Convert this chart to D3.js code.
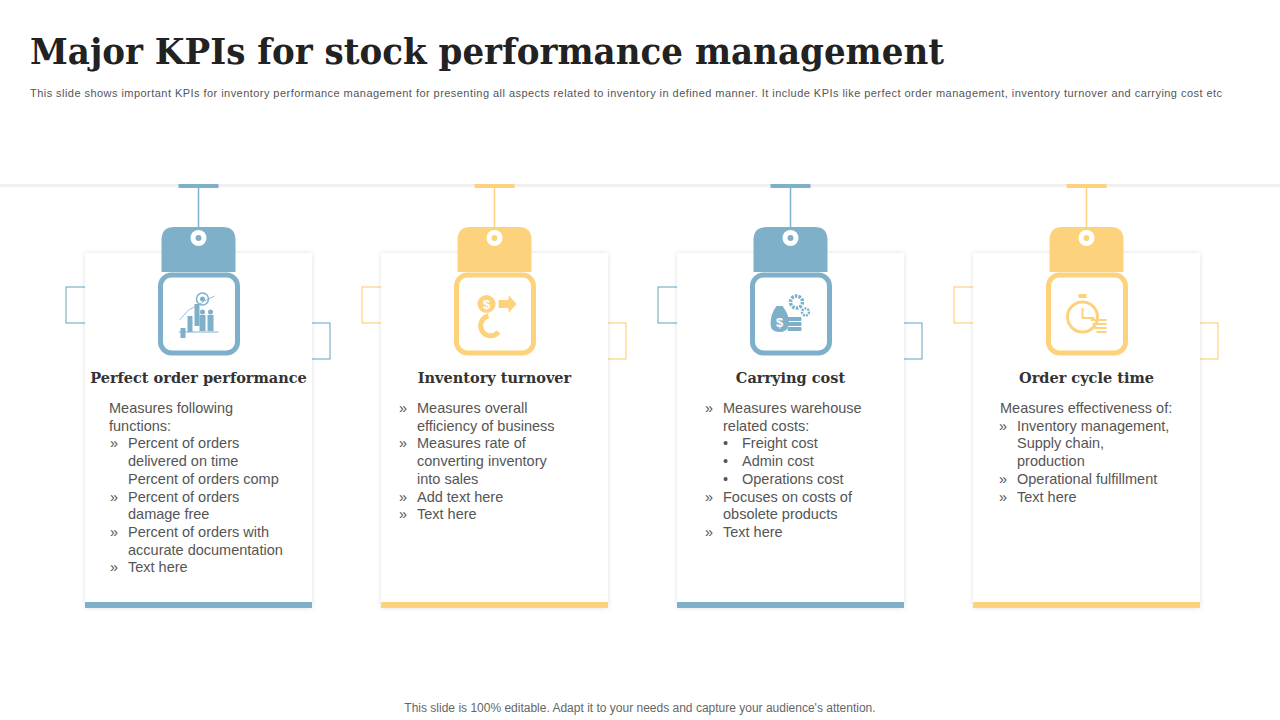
<!DOCTYPE html>
<html><head><meta charset="utf-8">
<script src="https://cdn.jsdelivr.net/npm/d3@7"></script>
<style>body{margin:0;background:#fff}svg{display:block}</style>
</head><body><svg id="c" width="1280" height="720"></svg>
<script>
const titles = ["Perfect order performance","Inventory turnover","Carrying cost","Order cycle time"];
const colors = ["#7fb0ca","#fdd27c","#7fb0ca","#fdd27c"];
// each line: [indentLevel, bullet, text]
const bodies = [
 [[0,"","Measures following"],[0,"","functions:"],[0,"»","Percent of orders"],[1,"","delivered on time"],[1,"","Percent of orders comp"],[0,"»","Percent of orders"],[1,"","damage free"],[0,"»","Percent of orders with"],[1,"","accurate documentation"],[0,"»","Text here"]],
 [[0,"»","Measures overall"],[1,"","efficiency of business"],[0,"»","Measures rate of"],[1,"","converting inventory"],[1,"","into sales"],[0,"»","Add text here"],[0,"»","Text here"]],
 [[0,"»","Measures warehouse"],[1,"","related costs:"],[1,"•","Freight cost"],[1,"•","Admin cost"],[1,"•","Operations cost"],[0,"»","Focuses on costs of"],[1,"","obsolete products"],[0,"»","Text here"]],
 [[0,"","Measures effectiveness of:"],[0,"»","Inventory management,"],[1,"","Supply chain,"],[1,"","production"],[0,"»","Operational fulfillment"],[0,"»","Text here"]]
];
const textIndent = [[109,128],[417,417],[723,723],[1000,1017]];
const svg = d3.select("#c");
const serif = "'DejaVu Serif', 'Liberation Serif', serif";
svg.append("text").attr("x",30).attr("y",64).attr("font-family",serif).attr("font-weight","bold").attr("font-size",35).attr("fill","#222").attr("textLength",914).attr("lengthAdjust","spacingAndGlyphs").text("Major KPIs for stock performance management");
svg.append("text").attr("x",30).attr("y",97).attr("font-family","Arial, 'Liberation Sans', sans-serif").attr("font-size",11).attr("fill","#555").attr("textLength",1192).text("This slide shows important KPIs for inventory performance management for presenting all aspects related to inventory in defined manner. It include KPIs like perfect order management, inventory turnover and carrying cost etc");
svg.append("rect").attr("x",0).attr("y",184).attr("width",1280).attr("height",3).attr("fill","#f0f0f0");
svg.append("text").attr("x",640).attr("y",712).attr("text-anchor","middle").attr("font-family","Arial, 'Liberation Sans', sans-serif").attr("font-size",12).attr("fill","#666").text("This slide is 100% editable. Adapt it to your needs and capture your audience's attention.");

const defs = svg.append("defs");
const f = defs.append("filter").attr("id","sh").attr("x","-10%").attr("y","-10%").attr("width","120%").attr("height","120%");
f.append("feDropShadow").attr("dx",0).attr("dy",0).attr("stdDeviation",2.5).attr("flood-color","#000").attr("flood-opacity",0.12);

const x = d3.scaleBand().domain(d3.range(4)).range([85,1200]).paddingInner(0.2331);
titles.forEach((t,i)=>{
  const x0 = x(i), w = x.bandwidth(), cx = x0 + w/2, col = colors[i];
  const g = svg.append("g");
  g.append("rect").attr("x",x0-19).attr("y",287).attr("width",25).attr("height",36).attr("fill","none").attr("stroke",col).attr("stroke-width",1.2);
  g.append("rect").attr("x",x0+w-8).attr("y",323).attr("width",26).attr("height",36).attr("fill","none").attr("stroke",col).attr("stroke-width",1.2);
  g.append("rect").attr("x",x0).attr("y",253).attr("width",w).attr("height",355).attr("fill","#fff").attr("filter","url(#sh)");
  g.append("rect").attr("x",x0).attr("y",602).attr("width",w).attr("height",6).attr("fill",col);
  g.append("rect").attr("x",cx-20).attr("y",184).attr("width",40).attr("height",4).attr("fill",col);
  g.append("line").attr("x1",cx).attr("x2",cx).attr("y1",188).attr("y2",236).attr("stroke",col).attr("stroke-width",1.5);
  g.append("path").attr("d",`M${cx-37},272 L${cx-37},${240} Q${cx-37},227 ${cx-24},227 L${cx+24},227 Q${cx+37},227 ${cx+37},240 L${cx+37},272 Z`).attr("fill",col);
  g.append("circle").attr("cx",cx).attr("cy",238).attr("r",8).attr("fill","#fff");
  g.append("circle").attr("cx",cx).attr("cy",238).attr("r",3).attr("fill",col);
  g.append("rect").attr("x",cx-38).attr("y",275).attr("width",77).attr("height",78).attr("rx",11).attr("fill","#fff").attr("stroke",col).attr("stroke-width",5);
  const ic = g.append("g").attr("transform",`translate(${cx},314)`).attr("fill",col).attr("stroke",col);
  if(i===0){
    [[-18,6,4],[-11,0,10],[-4,-6,16]].forEach(b=>ic.append("rect").attr("x",b[0]).attr("y",b[1]+12-b[2]).attr("width",5).attr("height",b[2]+6).attr("stroke","none"));
    [4,12].forEach(px=>{ic.append("circle").attr("cx",px).attr("cy",-2).attr("r",2.5).attr("stroke","none");ic.append("rect").attr("x",px-3).attr("y",1).attr("width",6).attr("height",16).attr("stroke","none");});
    ic.append("line").attr("x1",-20).attr("y1",18).attr("x2",20).attr("y2",18).attr("stroke-width",1);
    ic.append("polyline").attr("points","-19,6 -10,-4 -2,-8 6,-13 16,-18").attr("fill","none").attr("stroke-width",0.8);
    ic.append("circle").attr("cx",4).attr("cy",-15).attr("r",6).attr("fill","none").attr("stroke-width",1.5);
    ic.append("circle").attr("cx",4).attr("cy",-15).attr("r",2.5).attr("stroke","none");
  } else if(i===1){
    ic.append("circle").attr("cx",-8).attr("cy",-10).attr("r",9).attr("stroke","none");
    ic.append("text").attr("x",-8).attr("y",-5).attr("text-anchor","middle").attr("font-size",13).attr("font-weight","bold").attr("fill","#fff").attr("stroke","none").attr("font-family","Arial").text("$");
    ic.append("path").attr("d","M4,-14 L14,-14 L14,-19 L22,-10 L14,-1 L14,-6 L4,-6 Z").attr("stroke","none");
    ic.append("path").attr("d","M-6,2 A10,10 0 1 0 4,18").attr("fill","none").attr("stroke-width",5);
  } else if(i===2){
    ic.append("path").attr("d","M-14,-8 L-8,-8 Q0,2 -2,12 Q-4,18 -11,18 Q-20,18 -20,10 Q-20,0 -14,-8 Z").attr("stroke","none");
    ic.append("text").attr("x",-11).attr("y",13).attr("text-anchor","middle").attr("font-size",13).attr("font-weight","bold").attr("fill","#fff").attr("stroke","none").attr("font-family","Arial").text("$");
    [3,8,13].forEach(yy=>ic.append("rect").attr("x",-3).attr("y",yy).attr("width",14).attr("height",4).attr("rx",1).attr("stroke","none"));
    ic.append("circle").attr("cx",6).attr("cy",-12).attr("r",6).attr("fill","none").attr("stroke-width",3.5).attr("stroke-dasharray","2.5 1.2");
    ic.append("circle").attr("cx",15).attr("cy",-2).attr("r",3.5).attr("fill","none").attr("stroke-width",2.5).attr("stroke-dasharray","2 1");
  } else {
    ic.append("circle").attr("cx",-4).attr("cy",3).attr("r",15).attr("fill","none").attr("stroke-width",3);
    ic.append("rect").attr("x",-8).attr("y",-20).attr("width",8).attr("height",4).attr("stroke","none");
    ic.append("polyline").attr("points","-4,-6 -4,4 8,4").attr("fill","none").attr("stroke-width",2);
    [[0,6],[2,10],[4,14],[6,18]].forEach(d=>ic.append("line").attr("x1",4+d[0]).attr("x2",20).attr("y1",d[1]).attr("y2",d[1]).attr("stroke-width",2));
  }
  g.append("text").attr("x",cx).attr("y",383).attr("text-anchor","middle").attr("font-family",serif).attr("font-weight","bold").attr("font-size",14.5).attr("fill","#333").text(t);
  const [b0,b1] = textIndent[i];
  bodies[i].forEach((ln,k)=>{
    const y = 413 + k*17.7;
    let txx = ln[0]===0 ? b0 : b1;
    if(i===0) txx = (ln[0]===0 && !ln[1]) ? 109 : 128;
    if(i===3) txx = (ln[0]===0 && !ln[1]) ? 1000 : 1017;
    if(i===2 && ln[1]==="•") txx = 742;
    if(ln[1]){
      const bx = ln[1]==="•" ? 723 : txx - 18;
      g.append("text").attr("x",bx).attr("y",y).attr("font-family","Arial, 'Liberation Sans', sans-serif").attr("font-size",14.5).attr("fill","#555").text(ln[1]);
    }
    g.append("text").attr("x",txx).attr("y",y).attr("font-family","Arial, 'Liberation Sans', sans-serif").attr("font-size",14.5).attr("fill","#555").text(ln[2]);
  });
});
</script></body></html>
